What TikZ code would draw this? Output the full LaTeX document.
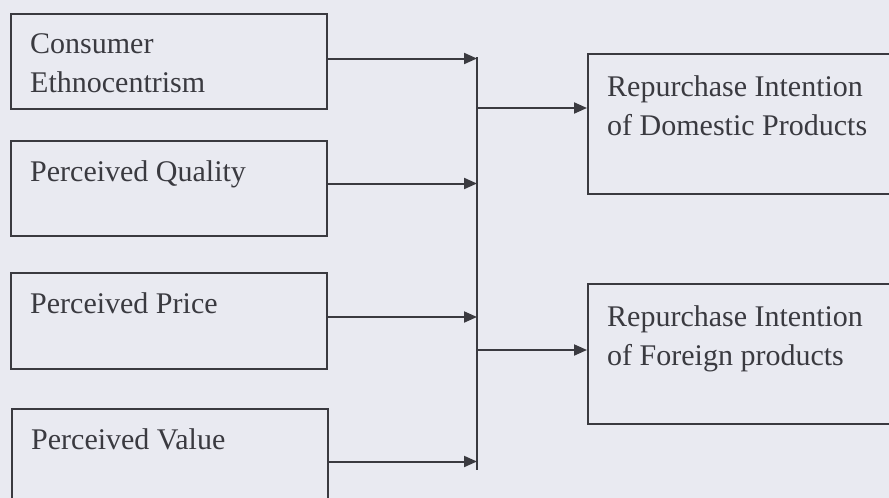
\documentclass[tikz,border=0pt]{standalone}
\usepackage{fontspec}
\setmainfont{LiberationSerif}[Extension=.ttf, UprightFont=*-Regular, BoldFont=*-Bold]
\usetikzlibrary{arrows.meta,positioning}
\definecolor{paper}{RGB}{233,234,241}
\definecolor{ink}{RGB}{58,58,64}

\begin{document}
\begin{tikzpicture}[x=1pt,y=-1pt]
	  		\tikzstyle{box}=[rectangle, draw=ink, line width=2pt, minimum width=316pt, minimum height=95pt, anchor=north west, inner sep=0pt]
	  		\tikzstyle{outbox}=[box, minimum width=330pt, minimum height=140pt]
	  		\tikzstyle{txt}=[anchor=north west, inner sep=0pt, align=left, text=ink, font=\fontsize{30}{39.5}\selectfont]
	  		\tikzstyle{connect}=[-{Triangle[length=13pt,width=11pt]}, draw=ink, line width=2pt]
	  		\fill[paper] (0,0) rectangle (889,498);
	  		\useasboundingbox (0,0) rectangle (889,498);
	  		% input boxes
	  		\node[box] (ce) at (10,13) {};
	  		\node[box] (pq) at (10,140) {};
	  		\node[box, minimum height=96pt] (pp) at (10,272) {};
	  		\node[box] (pv) at (11,408) {};
	  		% outcome boxes
	  		\node[outbox] (rid) at (587,53) {};
	  		\node[outbox] (rif) at (587,283) {};
	  		\node[txt] (cet) [below right=20pt and 20pt of ce.north west, anchor=north west] {Consumer\\Ethnocentrism};
	  		\node[txt] (pqt) [below right=20pt and 20pt of pq.north west, anchor=north west] {Perceived Quality};
	  		\node[txt] (ppt) [below right=20pt and 20pt of pp.north west, anchor=north west] {Perceived Price};
	  		\node[txt] (pvt) [below right=20pt and 20pt of pv.north west, anchor=north west] {Perceived Value};
	  		\node[txt] (ridt) [below right=22pt and 20pt of rid.north west, anchor=north west] {Repurchase Intention\\of Domestic Products};
	  		\node[txt] (rift) [below right=22pt and 20pt of rif.north west, anchor=north west] {Repurchase Intention\\of Foreign products};
	  		% bus line
	  		\coordinate (bus) at (477,0);
	  		\coordinate (bustop) at (477,57);
	  		\coordinate (busbot) at (477,470);
	  		\coordinate (jd) at (477,108);
	  		\coordinate (jf) at (477,350);
	  		\draw[draw=ink, line width=2pt] (bustop) -- (busbot);
	  		\path 
	  		([yshift=3pt]ce.east) edge [connect] ([yshift=3pt]ce.east -| bus)
	  		([yshift=5pt]pq.east) edge [connect] ([yshift=5pt]pq.east -| bus)
	  		([yshift=4pt]pp.east) edge [connect] ([yshift=4pt]pp.east -| bus)
	  		([yshift=-5pt]pv.east) edge [connect] ([yshift=-5pt]pv.east -| bus)
	  		(jd) edge [connect] (jd -| rid.west)
	  		(jf) edge [connect] (jf -| rif.west);
\end{tikzpicture}
\end{document}
